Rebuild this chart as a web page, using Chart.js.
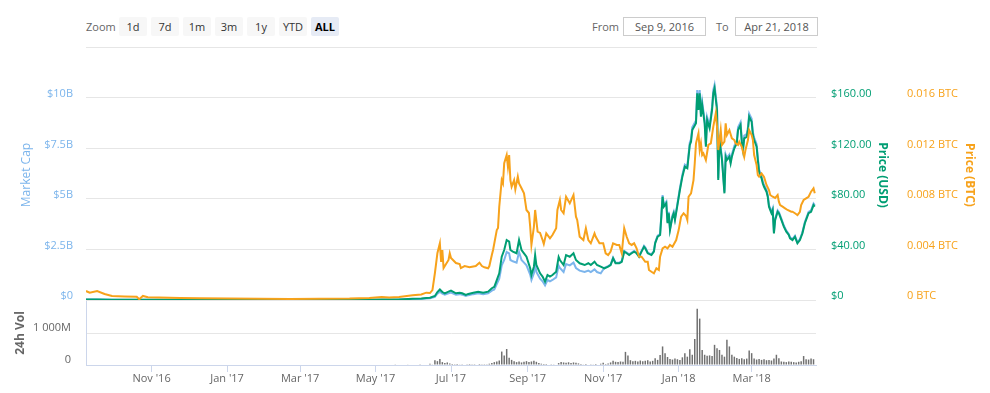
<!DOCTYPE html>
<html>
<head>
<meta charset="utf-8">
<script src="https://cdn.jsdelivr.net/npm/chart.js@4.4.0/dist/chart.umd.min.js"></script>
<style>
  html, body { margin: 0; padding: 0; background: #fff; }
  body { width: 990px; height: 393px; position: relative; overflow: hidden; font-family: "Open Sans", "Liberation Sans", sans-serif; }
  .abs { position: absolute; }
  .lbl { font-size: 11px; color: #666; line-height: 19px; top: 17px; }
  .btn { top: 17px; width: 28px; height: 19px; line-height: 19px; font-size: 11px; color: #333; background: #f7f7f7; text-align: center; border-radius: 2px; }
  .btn.sel { background: #e6ebf5; color: #000; font-weight: bold; }
  .box { top: 17px; height: 19px; box-sizing: border-box; border: 1px solid #ccc; font-size: 11px; color: #555; text-align: center; line-height: 17px; }
  canvas { position: absolute; left: 0; }
</style>
</head>
<body>
<div class="abs lbl" style="left:86px;">Zoom</div>
<div class="abs btn" style="left:119px;">1d</div>
<div class="abs btn" style="left:151px;">7d</div>
<div class="abs btn" style="left:183px;">1m</div>
<div class="abs btn" style="left:215px;">3m</div>
<div class="abs btn" style="left:247px;">1y</div>
<div class="abs btn" style="left:279px;">YTD</div>
<div class="abs btn sel" style="left:311px;">ALL</div>
<div class="abs lbl" style="left:592px;">From</div>
<div class="abs box" style="left:623px;width:83px;">Sep 9, 2016</div>
<div class="abs lbl" style="left:716px;">To</div>
<div class="abs box" style="left:735px;width:83px;">Apr 21, 2018</div>
<div class="abs" style="left:86px;top:47px;width:731px;height:1px;background:#e6e6e6;"></div>

<canvas id="priceChart" width="990" height="260" style="top:45px;"></canvas>
<canvas id="volChart" width="990" height="93" style="top:300px;"></canvas>

<script>
// ---- DATA (day = days since Sep 9, 2016) ----
const xTickDays   = [53, 114, 173, 234, 295, 357, 418, 479, 538];
const xTickLabels = ["Nov '16", "Jan '17", "Mar '17", "May '17", "Jul '17", "Sep '17", "Nov '17", "Jan '18", "Mar '18"];

const capTicks = [0, 2.5, 5, 7.5, 10];          // billions USD
const usdTicks = [0, 40, 80, 120, 160];
const btcTicks = [0, 0.004, 0.008, 0.012, 0.016];
const volTicks = [0, 1000];                     // millions USD

const priceDays = [0,9,21,41,46,59,76,92,116,140,165,189,213,229,239,253,264,271,275,278,
  282,284,286,288,290,293,295,299,302,304,307,309,313,317,321,325,328,330,332,334,336,338,340,342,343,345,348,350,352,354,356,359,360,362,363,364,367,369,371,373,375,377,380,382,383,386,388,391,394,396,399,403,406,408,411,413,416,
  419,422,424,426,428,431,433,435,437,439,441,443,445,447,449,451,452,454,457,459,460,462,464,465,466,467,469,470,471,472,474,475,476,478,480,482,484,486,488,489,490,493,494,495,496,497,498,500,501,502,504,506,507,508,510,511,512,514,516,517,518,520,521,522,524,526,527,529,530,531,532,534,535,536,538,539,540,542,543,544,546,547,548,550,551,552,554,555,556,557,559,560,562,564,566,568,569,571,573,574,575,577,578,579,581,582,584,586,588,589];

const priceUsd = [0.40,0.42,0.20,0.16,0.20,0.15,0.12,0.11,0.11,0.10,0.09,0.12,0.13,0.20,0.35,0.45,0.90,1.10,1.50,1.80,
  3.2,6.3,8.3,6.3,5.3,6.6,7.4,5.3,5.8,5.3,4.0,4.8,5.8,6.6,5.8,6.6,9.3,10.5,15.8,21.1,34.3,39.6,47.5,46.2,39.6,38.3,37.0,47.5,39.6,37.0,34.3,25.1,19.8,26.4,35.6,27.7,21.1,18.5,14.5,19.8,18.5,19.8,22.4,34.0,31.7,27.7,35.6,34.3,37.0,31.7,29.1,27.7,29.1,27.7,30.3,27.7,26.4,
  25.1,26.4,27.7,33.0,29.1,29.1,30.3,38.3,37.0,35.6,37.0,38.3,37.0,34.3,38.3,42.2,41.0,37.0,35.6,38.3,44.9,50.1,51.5,66.0,81.8,73.9,76.6,60.8,68.7,55.4,66.0,68.7,63.4,75.2,87.1,97.7,105.6,104.3,122.8,125.4,134.7,140.0,163.7,150.5,163.7,145.2,154.5,140.0,121.4,142.6,136.0,150.5,163.7,167.7,150.5,95.0,126.7,110.9,84.5,113.5,110.9,113.5,108.3,113.5,120.2,124.1,134.7,138.6,125.4,118.8,128.1,129.3,134.7,145.2,141.2,130.7,126.7,121.4,110.9,101.6,96.4,92.4,89.7,85.8,81.8,73.9,68.7,71.3,52.8,63.4,69.9,68.7,63.4,58.1,54.1,51.5,48.9,47.5,50.1,47.5,44.9,47.5,50.1,52.8,60.8,63.4,68.7,69.9,75.2,73.9];

const marketCapB = [0.020,0.021,0.010,0.008,0.010,0.0075,0.006,0.0055,0.0055,0.005,0.0045,0.006,0.0065,0.010,0.0175,0.0225,0.045,0.055,0.075,0.090,
  0.16,0.315,0.415,0.315,0.265,0.33,0.37,0.265,0.29,0.265,0.20,0.24,0.29,0.33,0.29,0.33,0.465,0.525,0.79,1.055,1.715,1.98,2.375,2.31,1.98,1.915,1.85,2.375,1.98,1.85,1.715,1.255,0.99,1.32,1.78,1.385,1.055,0.925,0.725,0.99,0.925,0.99,1.12,1.70,1.585,1.385,1.78,1.715,1.85,1.585,1.455,1.385,1.455,1.385,1.515,1.385,1.32,
  1.594,1.676,1.759,2.096,1.848,1.848,1.924,2.432,2.35,2.261,2.35,2.432,2.35,2.178,2.432,2.68,2.604,2.35,2.261,2.432,2.851,3.181,3.27,4.191,5.194,4.693,4.864,3.861,4.362,3.518,4.191,4.362,4.026,4.775,5.531,6.204,6.706,6.623,7.798,7.963,8.553,8.89,10.395,9.557,10.395,9.22,9.811,8.89,7.709,9.055,8.636,9.557,10.395,10.649,9.557,6.033,8.045,7.042,5.366,7.207,7.042,7.207,6.877,7.207,7.633,7.88,8.553,8.801,7.963,7.544,8.134,8.211,8.553,9.22,8.966,8.299,8.045,7.709,7.042,6.452,6.121,5.867,5.696,5.448,5.194,4.693,4.362,4.528,3.353,4.026,4.439,4.362,4.026,3.689,3.435,3.27,3.105,3.016,3.181,3.016,2.851,3.016,3.181,3.353,3.861,4.026,4.362,4.439,4.775,4.693];

const btcDays = [0,3,9,15,21,31,41,43,46,50,59,76,92,116,140,165,189,213,229,239,245,253,264,271,275,278,280,
  282,284,286,287,288,289,293,294,295,299,302,303,306,310,315,318,320,322,325,326,328,329,332,333,334,336,337,338,340,341,342,343,344,346,347,349,350,352,354,356,358,359,360,362,363,365,367,369,370,372,375,377,380,381,383,384,386,388,391,394,396,397,399,402,404,406,408,411,412,415,418,420,422,424,426,429,431,433,435,437,439,441,443,445,447,449,452,454,455,457,459,461,463,464,466,468,470,472,474,477,479,481,483,485,486,487,489,491,492,493,495,496,497,498,499,501,503,505,507,509,510,511,513,514,516,517,518,520,522,524,525,527,528,530,532,533,535,536,538,539,540,542,543,544,546,548,550,552,553,555,557,559,560,561,563,565,567,570,571,573,575,577,578,580,582,584,586,588,589];

const priceBtc = [0.00071,0.00058,0.00071,0.00048,0.00032,0.00028,0.00025,0.00006,0.00032,0.00022,0.00020,0.00016,0.00013,0.00011,0.00010,0.00008,0.00010,0.00011,0.00016,0.00024,0.00020,0.00024,0.00037,0.00044,0.00058,0.00055,0.00079,
  0.00214,0.0037,0.00449,0.00301,0.00396,0.00253,0.00317,0.0037,0.00333,0.00293,0.00285,0.00253,0.00269,0.00259,0.00269,0.00295,0.00269,0.00259,0.00251,0.00269,0.00356,0.00396,0.00554,0.0057,0.00739,0.0095,0.00924,0.01083,0.01148,0.01056,0.01148,0.0095,0.00897,0.0095,0.00877,0.00977,0.00924,0.00885,0.00845,0.00713,0.00689,0.0058,0.00436,0.0058,0.00713,0.00541,0.00531,0.00475,0.00444,0.00528,0.00489,0.00515,0.00568,0.00713,0.00792,0.00713,0.00687,0.00818,0.00766,0.00832,0.0066,0.00634,0.00501,0.00475,0.00568,0.00475,0.00449,0.00528,0.00501,0.00449,0.00449,0.0037,0.00356,0.00383,0.00449,0.00436,0.00436,0.0037,0.00568,0.00501,0.00449,0.00436,0.00449,0.00409,0.00343,0.00343,0.00303,0.00303,0.00238,0.00224,0.00211,0.00251,0.00238,0.00343,0.00409,0.00422,0.00409,0.00436,0.00422,0.00475,0.00554,0.0066,0.00687,0.00665,0.00634,0.00818,0.00845,0.0095,0.01083,0.01241,0.0132,0.01188,0.01241,0.01148,0.01162,0.01109,0.01228,0.01241,0.01373,0.01479,0.01373,0.01188,0.01346,0.01228,0.01254,0.014,0.01307,0.01346,0.01281,0.01267,0.01241,0.01228,0.01254,0.01214,0.01135,0.01188,0.01267,0.01346,0.01307,0.01267,0.01148,0.01069,0.0099,0.00977,0.01003,0.00974,0.00911,0.00871,0.00832,0.00818,0.00808,0.00832,0.00779,0.00752,0.00739,0.00726,0.00713,0.00699,0.00699,0.00687,0.00673,0.00699,0.00752,0.00792,0.00805,0.00818,0.00858,0.00885,0.00845];

const volDays = [250,260,270,278,
  280,282,284,286,288,290,292,294,296,298,300,302,304,306,308,310,312,314,316,318,320,322,324,326,328,330,332,334,336,338,340,342,344,346,348,350,352,354,356,358,360,362,364,366,368,370,372,374,376,378,380,382,384,386,388,390,392,394,396,398,400,402,404,406,408,410,412,414,416,418,420,422,424,426,428,430,432,434,436,438,440,442,444,446,448,450,452,454,456,458,460,462,464,466,468,470,472,474,476,478,480,482,484,486,488,490,492,494,496,498,500,502,504,506,508,510,512,514,516,518,520,522,524,526,528,530,532,534,536,538,540,542,544,546,548,550,552,554,556,558,560,562,564,566,568,570,572,574,576,578,580,582,584,586,588];

const volM = [10,12,25,40,
  20,150,120,190,90,60,80,50,30,25,35,20,25,15,20,30,20,25,15,30,20,25,20,40,60,90,110,140,420,300,500,230,160,120,90,110,80,100,120,90,110,130,100,60,40,35,30,15,20,10,15,60,90,80,70,85,60,80,70,50,30,20,35,15,25,20,30,15,40,70,30,50,80,130,100,90,110,100,410,300,150,120,130,110,140,120,130,150,110,130,210,160,310,580,370,250,190,170,200,180,160,240,370,260,490,320,810,1760,1450,470,320,290,300,280,630,520,470,320,260,790,580,320,260,220,190,210,180,200,450,370,200,170,190,160,180,150,160,140,200,320,210,110,100,90,110,100,90,80,100,120,280,180,170,200,180];

// ---- STYLE ----
const FONT = "'Open Sans', 'Liberation Sans', sans-serif";
const C_CAP = '#7cb5ec', C_USD = '#009e73', C_BTC = '#f7a21b', C_VOL = '#707070';
const GRID = '#e6e6e6', AXIS = '#ccd6eb';
const X_MIN = 0, X_MAX = 590;

function pts(xs, ys) { return xs.map((x, i) => ({ x: x, y: ys[i] })); }
function setTicks(arr) { return s => { s.ticks = arr.map(v => ({ value: v })); }; }
function fitV(w) { return s => { s.width = w; s.paddingTop = 0; s.paddingBottom = 0; s.paddingLeft = 0; s.paddingRight = 0; }; }
function fitH(h) { return s => { s.height = h; s.paddingTop = 0; s.paddingBottom = 0; s.paddingLeft = 0; s.paddingRight = 0; }; }

new Chart(document.getElementById('priceChart'), {
  type: 'line',
  data: {
    datasets: [
      { label: 'Price (BTC)', data: pts(btcDays, priceBtc), yAxisID: 'btc', borderColor: C_BTC, borderWidth: 2, pointRadius: 0, tension: 0 },
      { label: 'Price (USD)', data: pts(priceDays, priceUsd), yAxisID: 'usd', borderColor: C_USD, borderWidth: 2, pointRadius: 0, tension: 0 },
      { label: 'Market Cap', data: pts(priceDays, marketCapB), yAxisID: 'cap', borderColor: C_CAP, borderWidth: 2, pointRadius: 0, tension: 0 }
    ]
  },
  options: {
    responsive: false, animation: false, devicePixelRatio: 1,
    layout: { padding: { top: 5, bottom: 5, left: 0, right: 9 } },
    plugins: { legend: { display: false }, tooltip: { enabled: false } },
    scales: {
      x: { type: 'linear', min: X_MIN, max: X_MAX, display: false },
      cap: {
        position: 'left', min: 0, max: 12.376,
        afterBuildTicks: setTicks(capTicks),
        afterFit: fitV(86),
        grid: { color: GRID, drawTicks: false },
        border: { display: false },
        ticks: { color: C_CAP, font: { family: FONT, size: 11 }, padding: 13, labelOffset: -4,
                 callback: v => v === 0 ? '$0' : '$' + v + 'B' },
        title: { display: true, text: 'Market Cap', color: C_CAP, font: { family: FONT, size: 12 }, padding: { top: 19, bottom: 0 } }
      },
      usd: {
        position: 'right', weight: 1, min: 0, max: 198.02,
        afterBuildTicks: setTicks(usdTicks),
        afterFit: fitV(78),
        grid: { drawOnChartArea: false, drawTicks: false },
        border: { display: false },
        ticks: { color: C_USD, font: { family: FONT, size: 11 }, padding: 15, labelOffset: -4,
                 callback: v => v === 0 ? '$0' : '$' + v.toFixed(2) },
        title: { display: true, text: 'Price (USD)', color: C_USD, font: { family: FONT, size: 12, weight: 'bold' }, padding: { top: 4, bottom: 0 } }
      },
      btc: {
        position: 'right', weight: 2, min: 0, max: 0.019802,
        afterBuildTicks: setTicks(btcTicks),
        afterFit: fitV(87),
        grid: { drawOnChartArea: false, drawTicks: false },
        border: { display: false },
        ticks: { color: C_BTC, font: { family: FONT, size: 11 }, padding: 13, labelOffset: -4,
                 callback: v => v === 0 ? '0 BTC' : v.toFixed(3) + ' BTC' },
        title: { display: true, text: 'Price (BTC)', color: C_BTC, font: { family: FONT, size: 12, weight: 'bold' }, padding: { top: 4, bottom: 0 } }
      }
    }
  }
});

new Chart(document.getElementById('volChart'), {
  type: 'bar',
  data: {
    datasets: [
      { label: '24h Vol', data: pts(volDays, volM), backgroundColor: C_VOL, borderWidth: 0, categoryPercentage: 1, barPercentage: 0.6 }
    ]
  },
  options: {
    responsive: false, animation: false, devicePixelRatio: 1,
    layout: { padding: { top: 1, bottom: 0, left: 0, right: 174 } },
    plugins: { legend: { display: false }, tooltip: { enabled: false } },
    scales: {
      x: {
        type: 'linear', min: X_MIN, max: X_MAX, offset: false,
        afterBuildTicks: setTicks(xTickDays),
        afterFit: fitH(28),
        grid: { drawOnChartArea: false, drawTicks: true, tickLength: 7, color: AXIS, tickColor: AXIS, offset: false },
        border: { display: true, color: AXIS, width: 1 },
        ticks: { color: '#666', font: { family: FONT, size: 11 }, padding: 0, autoSkip: false, maxRotation: 0,
                 callback: v => { const i = xTickDays.indexOf(v); return i >= 0 ? xTickLabels[i] : ''; } }
      },
      y: {
        position: 'left', min: 0, max: 2000,
        afterBuildTicks: setTicks(volTicks),
        afterFit: fitV(86),
        grid: { color: c => c.tick && c.tick.value === 0 ? 'rgba(0,0,0,0)' : GRID, drawTicks: false },
        border: { display: true, color: AXIS },
        ticks: { color: '#666', font: { family: FONT, size: 11 }, padding: 15, labelOffset: -5,
                 callback: v => v === 0 ? '0' : '1 000M' },
        title: { display: true, text: '24h Vol', color: '#666', font: { family: FONT, size: 12, weight: 'bold' }, padding: { top: 13, bottom: 0 } }
      }
    }
  }
});
</script>
</body>
</html>
